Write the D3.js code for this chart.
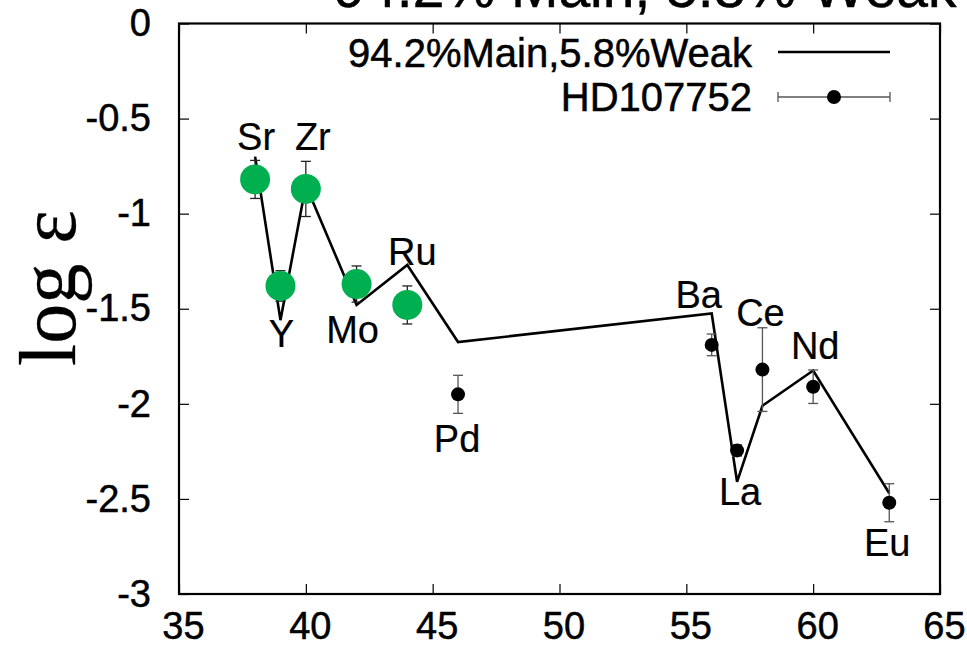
<!DOCTYPE html>
<html>
<head>
<meta charset="utf-8">
<script src="https://cdn.jsdelivr.net/npm/d3@7"></script>
<style>
  body { margin: 0; background: #fff; }
  text { font-family: "Liberation Sans", Arial, sans-serif; fill: #000; stroke: #000; stroke-width: 0.5px; }
</style>
</head>
<body>
<div id="chart"></div>
<script>
// Elements and atomic numbers
const elements = ['Sr', 'Y', 'Zr', 'Mo', 'Ru', 'Pd', 'Ba', 'La', 'Ce', 'Nd', 'Eu'];
const atomicNumbers = [38, 39, 40, 42, 44, 46, 56, 57, 58, 60, 63];

// 94.2% Main + 5.8% Weak model
const modelValues = [-0.70, -1.56, -0.85, -1.48, -1.27, -1.675, -1.525, -2.41, -2.01, -1.825, -2.47];

// HD107752 observed abundances and errors
const obsValues = [-0.82, -1.38, -0.87, -1.37, -1.48, -1.95, -1.69, -2.245, -1.82, -1.91, -2.52];
const obsErrors = [0.10, 0.08, 0.145, 0.095, 0.10, 0.10, 0.057, 0.03, 0.22, 0.088, 0.10];
const highlighted = ['Sr', 'Y', 'Zr', 'Mo', 'Ru'];

const xTicks = [35, 40, 45, 50, 55, 60, 65];
const yTicks = [0, -0.5, -1, -1.5, -2, -2.5, -3];

// label placement relative to the model point (pixels)
const labelOffset = {
  Sr: [1, -7], Y: [1, 27], Zr: [7, -35], Mo: [-4, 38], Ru: [5, 0], Pd: [-1, 110],
  Ba: [-13, -6], La: [3, 23], Ce: [-2, -80], Nd: [2, -12], Eu: [-2, 63]
};

const width = 967;
const height = 656;
const margin = { top: 23.5, right: 27, bottom: 62, left: 179 };

const svg = d3.select('#chart')
  .append('svg')
  .attr('width', width)
  .attr('height', height);

const x = d3.scaleLinear().domain([35, 65]).range([margin.left, width - margin.right]);
const y = d3.scaleLinear().domain([-3, 0]).range([height - margin.bottom, margin.top]);

const rows = elements.map((el, i) => ({
  el,
  z: atomicNumbers[i],
  model: modelValues[i],
  obs: obsValues[i],
  err: obsErrors[i],
  green: highlighted.includes(el)
}));

// Title (cut off at the top like the original)
svg.append('text')
  .attr('x', 645)
  .attr('y', 7)
  .attr('text-anchor', 'middle')
  .style('font-size', '57px')
  .text('94.2% Main, 5.8% Weak');

// Axes with inward ticks on all sides
const tickLen = 10;
svg.append('g')
  .attr('transform', `translate(0,${y(-3)})`)
  .call(d3.axisBottom(x).tickValues(xTicks).tickSize(-tickLen).tickPadding(18).tickFormat(d3.format('d')))
  .call(g => g.select('.domain').remove())
  .call(g => g.selectAll('text').style('font-size', '38px').attr('dy', '0.71em').attr('dx', 4));

svg.append('g')
  .attr('transform', `translate(0,${y(0)})`)
  .call(d3.axisTop(x).tickValues(xTicks).tickSize(-tickLen).tickFormat(''))
  .call(g => g.select('.domain').remove());

svg.append('g')
  .attr('transform', `translate(${x(35)},0)`)
  .call(d3.axisLeft(y).tickValues(yTicks).tickSize(-tickLen).tickPadding(28).tickFormat(d => d))
  .call(g => g.select('.domain').remove())
  .call(g => g.selectAll('text').style('font-size', '38px'));

svg.append('g')
  .attr('transform', `translate(${x(65)},0)`)
  .call(d3.axisRight(y).tickValues(yTicks).tickSize(-tickLen).tickFormat(''))
  .call(g => g.select('.domain').remove());

svg.selectAll('.tick line').attr('stroke', '#000').attr('stroke-width', 1.2);

// Frame
svg.append('rect')
  .attr('x', x(35))
  .attr('y', y(0))
  .attr('width', x(65) - x(35))
  .attr('height', y(-3) - y(0))
  .attr('fill', 'none')
  .attr('stroke', '#000')
  .attr('stroke-width', 2.2);

// Y axis label
svg.append('text')
  .attr('transform', `translate(75,${288}) rotate(-90)`)
  .attr('text-anchor', 'middle')
  .style('font-family', '"Liberation Serif", "Times New Roman", serif')
  .style('font-size', '80px')
  .style('stroke-width', '0.3px')
  .text('log ε');

// Model line
const line = d3.line().x(d => x(d.z)).y(d => y(d.model));
svg.append('path')
  .datum(rows)
  .attr('d', line)
  .attr('fill', 'none')
  .attr('stroke', '#000')
  .attr('stroke-width', 2.6)
  .attr('stroke-linejoin', 'miter');

// Error bars
const capHalf = 5;
const bars = svg.append('g').selectAll('g')
  .data(rows)
  .enter()
  .append('g')
  .attr('stroke', d => d.green ? '#222' : '#555')
  .attr('stroke-width', 1.3);

bars.append('line')
  .attr('x1', d => x(d.z)).attr('x2', d => x(d.z))
  .attr('y1', d => y(d.obs + d.err)).attr('y2', d => y(d.obs - d.err));
bars.append('line')
  .attr('x1', d => x(d.z) - capHalf).attr('x2', d => x(d.z) + capHalf)
  .attr('y1', d => y(d.obs + d.err)).attr('y2', d => y(d.obs + d.err));
bars.append('line')
  .attr('x1', d => x(d.z) - capHalf).attr('x2', d => x(d.z) + capHalf)
  .attr('y1', d => y(d.obs - d.err)).attr('y2', d => y(d.obs - d.err));

// Points
svg.append('g').selectAll('circle')
  .data(rows)
  .enter()
  .append('circle')
  .attr('cx', d => x(d.z))
  .attr('cy', d => y(d.obs))
  .attr('r', d => d.green ? 15 : 7)
  .attr('fill', d => d.green ? '#00b050' : '#000');

// Element labels
svg.append('g').selectAll('text')
  .data(rows)
  .enter()
  .append('text')
  .attr('x', d => x(d.z) + labelOffset[d.el][0])
  .attr('y', d => y(d.model) + labelOffset[d.el][1])
  .attr('text-anchor', 'middle')
  .style('font-size', '38px')
  .style('stroke-width', '0.2px')
  .text(d => d.el);

// Legend
const legend = svg.append('g');
legend.append('text')
  .attr('x', 752).attr('y', 67)
  .attr('text-anchor', 'end')
  .style('font-size', '40px')
  .text('94.2%Main,5.8%Weak');
legend.append('line')
  .attr('x1', 778).attr('x2', 890).attr('y1', 52).attr('y2', 52)
  .attr('stroke', '#000').attr('stroke-width', 2.6);

legend.append('text')
  .attr('x', 752).attr('y', 111)
  .attr('text-anchor', 'end')
  .style('font-size', '40px')
  .text('HD107752');
legend.append('line')
  .attr('x1', 778).attr('x2', 890).attr('y1', 97).attr('y2', 97)
  .attr('stroke', '#555').attr('stroke-width', 1.3);
[778, 890].forEach(cx => {
  legend.append('line')
    .attr('x1', cx).attr('x2', cx).attr('y1', 92).attr('y2', 102)
    .attr('stroke', '#555').attr('stroke-width', 1.3);
});
legend.append('circle')
  .attr('cx', 834).attr('cy', 97).attr('r', 7)
  .attr('fill', '#000');
</script>
</body>
</html>
